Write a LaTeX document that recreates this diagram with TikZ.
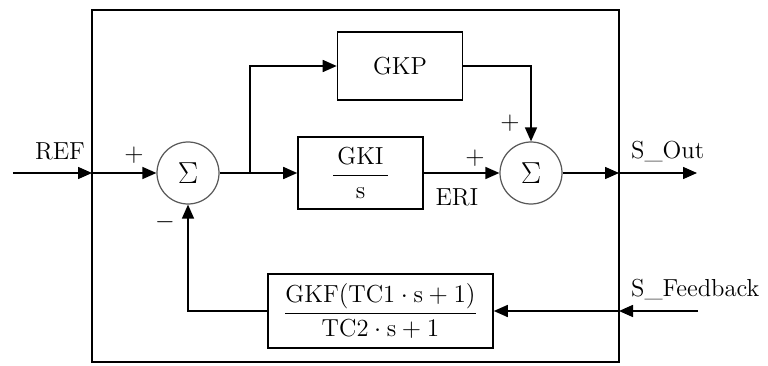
\documentclass[tikz,border=0pt]{standalone}
\usepackage{amsmath}
\usetikzlibrary{positioning,arrows.meta,calc}

\tikzset{
  block/.style={draw,line width=0.9pt,minimum width=2.5cm,minimum height=1.36cm,inner sep=2pt},
  sumnode/.style={draw=black!65,line width=0.7pt,circle,minimum size=1.24cm,inner sep=0pt,
    font=\fontsize{17}{20}\selectfont},
  sig/.style={line width=0.9pt}
}

\begin{document}
\begin{tikzpicture}[>={Triangle[length=0.28cm,width=0.24cm]},font=\fontsize{14}{17}\selectfont]
  \useasboundingbox (0,0) rectangle (15.36,7.3);
  % frame
  \draw[line width=0.9pt] (1.84,0.06) rectangle (12.38,7.10);
  % blocks
  \node[sumnode] (sum1) at (3.76,3.84) {$\Sigma$};
  \node[sumnode] (sum2) at (10.62,3.84) {$\Sigma$};
  \node[block] (gkp) at (8.0,5.98) {GKP};
  \node[block,minimum height=1.44cm] (gki) at (7.21,3.84) {$\dfrac{\text{\,GKI\,}}{\text{s}}$};
  \node[block,minimum width=4.5cm,minimum height=1.48cm] (gkf) at (7.61,1.08)
    {$\dfrac{\text{GKF}(\text{TC1}\cdot\text{s}+1)}{\text{TC2}\cdot\text{s}+1}$};
  % ports
  \coordinate (ref) at (0.26,3.84);
  \coordinate (inL) at (1.84,3.84);
  \coordinate (br) at (5.0,3.84);
  \coordinate (outR) at (12.38,3.84);
  \coordinate (sout) at (13.94,3.84);
  \coordinate (sfb) at (13.96,1.08);
  \coordinate (fbR) at (12.38,1.08);
  % signals
  \draw[sig,->] (ref) -- (inL);
  \draw[sig,->] (inL) -- (sum1.west);
  \draw[sig,->] (sum1.east) -- (gki.west);
  \draw[sig,->] (br) |- (gkp.west);
  \draw[sig,->] (gki.east) -- (sum2.west);
  \draw[sig,->] (gkp.east) -| (sum2.north);
  \draw[sig,->] (sum2.east) -- (outR);
  \draw[sig,->] (outR) -- (sout);
  \draw[sig,->] (sfb) -- (fbR);
  \draw[sig,->] (fbR) -- (gkf.east);
  \draw[sig,->] (gkf.west) -| (sum1.south);
  % labels
  \node (lref) at (1.2,4.28) {REF};
  \node (p1) at (2.68,4.2) {$+$};
  \node (m1) at (3.3,2.86) {$-$};
  \node (p2) at (10.2,4.84) {$+$};
  \node (p3) at (9.5,4.14) {$+$};
  \node (leri) at (9.14,3.36) {ERI};
  \node[anchor=west] (lout) at (12.5,4.26) {S\_Out};
  \node[anchor=west] (lfb) at (12.5,1.5) {S\_Feedback};
\end{tikzpicture}
\end{document}
